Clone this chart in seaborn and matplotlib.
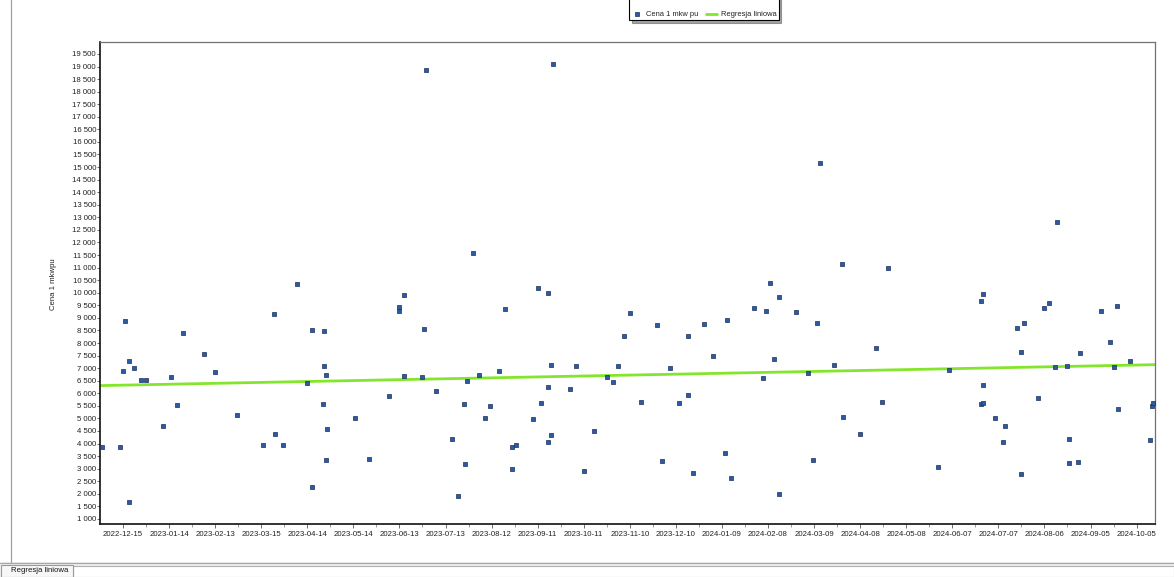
import numpy as np
import pandas as pd
import matplotlib
matplotlib.use("Agg")
import matplotlib.pyplot as plt
import matplotlib.dates as mdates
from matplotlib.ticker import FixedLocator, FuncFormatter
from matplotlib.lines import Line2D
from matplotlib.patches import Rectangle
import seaborn as sns

# Transaction dates and price per square metre of usable floor area
dates = [
    "2022-12-01", "2022-12-13", "2022-12-15", "2022-12-16", "2022-12-19", "2022-12-19",
    "2022-12-22", "2022-12-27", "2022-12-30", "2023-01-10", "2023-01-15", "2023-01-19",
    "2023-01-23", "2023-02-06", "2023-02-13", "2023-02-27", "2023-03-16", "2023-03-23",
    "2023-03-24", "2023-03-29", "2023-04-07", "2023-04-14", "2023-04-17", "2023-04-17",
    "2023-04-24", "2023-04-25", "2023-04-25", "2023-04-26", "2023-04-26", "2023-04-27",
    "2023-05-15", "2023-05-24", "2023-06-06", "2023-06-13", "2023-06-13", "2023-06-16",
    "2023-06-16", "2023-06-28", "2023-06-29", "2023-06-30", "2023-07-07", "2023-07-17",
    "2023-07-21", "2023-07-25", "2023-07-26", "2023-07-27", "2023-07-31", "2023-08-04",
    "2023-08-08", "2023-08-11", "2023-08-17", "2023-08-21", "2023-08-25", "2023-08-25",
    "2023-08-28", "2023-09-08", "2023-09-11", "2023-09-13", "2023-09-18", "2023-09-18",
    "2023-09-18", "2023-09-20", "2023-09-20", "2023-09-21", "2023-10-02", "2023-10-06",
    "2023-10-11", "2023-10-18", "2023-10-26", "2023-10-30", "2023-11-02", "2023-11-06",
    "2023-11-10", "2023-11-17", "2023-11-28", "2023-12-01", "2023-12-06", "2023-12-12",
    "2023-12-18", "2023-12-18", "2023-12-21", "2023-12-28", "2024-01-03", "2024-01-11",
    "2024-01-12", "2024-01-15", "2024-01-30", "2024-02-05", "2024-02-07", "2024-02-09",
    "2024-02-12", "2024-02-15", "2024-02-15", "2024-02-26", "2024-03-05", "2024-03-08",
    "2024-03-11", "2024-03-13", "2024-03-22", "2024-03-27", "2024-03-28", "2024-04-08",
    "2024-04-18", "2024-04-22", "2024-04-26", "2024-05-29", "2024-06-05", "2024-06-26",
    "2024-06-26", "2024-06-27", "2024-06-27", "2024-06-27", "2024-07-05", "2024-07-10",
    "2024-07-11", "2024-07-19", "2024-07-22", "2024-07-22", "2024-07-24", "2024-08-02",
    "2024-08-06", "2024-08-09", "2024-08-13", "2024-08-14", "2024-08-21", "2024-08-22",
    "2024-08-22", "2024-08-28", "2024-08-29", "2024-09-12", "2024-09-18", "2024-09-20",
    "2024-09-22", "2024-09-23", "2024-10-01", "2024-10-14", "2024-10-15", "2024-10-16",
]
prices = [
    3860, 3860, 6870, 8880, 7280, 1680,
    7000, 6510, 6540, 4680, 6630, 5545,
    8400, 7560, 6845, 5120, 3940, 9135,
    4400, 3940, 10340, 6420, 8500, 2255,
    5575, 8460, 7070, 6725, 3330, 4580,
    5000, 3390, 5900, 9440, 9270, 9930,
    6670, 6645, 8555, 18860, 6075, 4195,
    1915, 5555, 3170, 6470, 11600, 6710,
    5000, 5475, 6895, 9335, 3865, 3000,
    3925, 4960, 10170, 5625, 9985, 6260,
    4045, 7145, 4325, 19090, 6180, 7105,
    2920, 4485, 6630, 6445, 7105, 8260,
    9190, 5650, 8735, 3305, 7005, 5625,
    8260, 5930, 2830, 8775, 7480, 3635,
    8935, 2615, 9375, 6620, 9270, 10405,
    7360, 9850, 2005, 9215, 6805, 3360,
    8805, 15155, 7145, 11150, 5040, 4380,
    7785, 5650, 10965, 3050, 6925, 9690,
    5585, 9960, 6310, 5625, 5015, 4075,
    4710, 8580, 7640, 2800, 8815, 5795,
    9375, 9575, 7065, 12810, 7105, 4165,
    3210, 3265, 7585, 9270, 8060, 7045,
    9455, 5360, 7280, 4125, 5505, 5610,
]

x_tick_labels = [
    "2022-12-15", "2023-01-14", "2023-02-13", "2023-03-15", "2023-04-14", "2023-05-14",
    "2023-06-13", "2023-07-13", "2023-08-12", "2023-09-11", "2023-10-11", "2023-11-10",
    "2023-12-10", "2024-01-09", "2024-02-08", "2024-03-09", "2024-04-08", "2024-05-08",
    "2024-06-07", "2024-07-07", "2024-08-06", "2024-09-05", "2024-10-05",
]
y_tick_values = list(range(1000, 20000, 500))

series_points = "Cena 1 mkw pu"
series_fit = "Regresja liniowa"
y_title = "Cena 1 mkwpu"

x_start, x_end = "2022-11-30", "2024-10-17"
y_low, y_high = 800, 19975

point_face = "#2A5BA3"
point_edge = "#1B2F5C"
fit_color = "#84E62C"

sns.set_theme(style="white")
plt.rcParams["font.family"] = ["Liberation Sans", "DejaVu Sans"]
plt.rcParams["font.size"] = 5.6

df = pd.DataFrame({"data": pd.to_datetime(dates), "cena": prices})

fig = plt.figure(figsize=(11.74, 5.77), dpi=100)
fig.patch.set_facecolor("white")
ax = fig.add_axes([100 / 1174, 1 - 524 / 577, 1055 / 1174, (524 - 42) / 577])

sns.scatterplot(
    data=df, x="data", y="cena", ax=ax, marker="s", s=11,
    color=point_face, edgecolor=point_edge, linewidth=0.5,
    label=series_points, zorder=3,
)

# Least-squares trend over the whole visible date range
xnum = mdates.date2num(df["data"])
slope, intercept = np.polyfit(xnum, df["cena"].to_numpy(float), 1)
fit_dates = pd.to_datetime([x_start, x_end])
fit_df = pd.DataFrame({
    "data": fit_dates,
    "cena": intercept + slope * mdates.date2num(fit_dates),
})
sns.lineplot(data=fit_df, x="data", y="cena", ax=ax, color=fit_color,
             linewidth=2.0, label=series_fit, zorder=2)

ax.set_xlim(pd.Timestamp(x_start), pd.Timestamp(x_end))
ax.set_ylim(y_low, y_high)

major = pd.to_datetime(x_tick_labels)
minor = major[:-1] + pd.Timedelta(days=15)
ax.xaxis.set_major_locator(FixedLocator(mdates.date2num(major)))
ax.xaxis.set_minor_locator(FixedLocator(mdates.date2num(minor)))
ax.set_xticklabels(x_tick_labels)
ax.yaxis.set_major_locator(FixedLocator(y_tick_values))
ax.yaxis.set_major_formatter(FuncFormatter(lambda v, p: f"{int(v):,}".replace(",", " ")))

ax.tick_params(axis="x", which="major", direction="out", length=3.2, width=0.6,
               color="#555555", pad=2.0, labelsize=5.6, labelcolor="#222222",
               bottom=True)
ax.tick_params(axis="x", which="minor", direction="out", length=2.2, width=0.6,
               color="#888888", bottom=True)
ax.tick_params(axis="y", which="major", direction="out", length=2.2, width=0.6,
               color="#555555", pad=0.6, labelsize=5.6, labelcolor="#222222",
               left=True)

ax.set_xlabel("")
ax.set_ylabel(y_title, fontsize=5.6, color="#222222", labelpad=0)
ax.yaxis.set_label_coords((57 - 100) / 1055, (524 - 284) / 482)

for side in ("left", "bottom"):
    ax.spines[side].set_color("#111111")
    ax.spines[side].set_linewidth(1.2)
for side in ("top", "right"):
    ax.spines[side].set_color("#707070")
    ax.spines[side].set_linewidth(0.9)
ax.grid(False)

# Legend at the top, its upper part running off the figure edge
handles, labels = ax.get_legend_handles_labels()
ax.get_legend().remove()
leg = fig.legend(
    handles, labels, loc="lower center", bbox_to_anchor=(704 / 1174, 1 - 20 / 577),
    borderaxespad=0, ncol=2, frameon=True, fancybox=False, shadow=True, fontsize=5.4,
    borderpad=0.25, handlelength=1.5, handletextpad=0.5, columnspacing=1.0,
    markerscale=1.0, title=" ", title_fontsize=10,
)
leg.get_frame().set_edgecolor("#000000")
leg.get_frame().set_linewidth(0.8)
for t in leg.get_texts():
    t.set_color("#222222")

# Window frame around the chart panel
def px(x, y):
    return x / 1174, 1 - y / 577

fig.add_artist(Line2D(*zip(px(11, 0), px(11, 562)), color="#A0A0A0", lw=0.9))
fig.add_artist(Rectangle(px(0, 577), 1, 15 / 577, facecolor="#F0F0F0",
                         edgecolor="none", transform=fig.transFigure))
fig.add_artist(Line2D(*zip(px(0, 562.5), px(1174, 562.5)), color="#A8A8A8", lw=0.9))
fig.add_artist(Rectangle(px(73, 577), (1174 - 73) / 1174, 11 / 577, facecolor="white",
                         edgecolor="#B0B0B0", lw=0.8, transform=fig.transFigure))
fig.add_artist(Rectangle(px(1, 577), 72 / 1174, 12 / 577, facecolor="#F7F7F7",
                         edgecolor="#9A9A9A", lw=0.8, transform=fig.transFigure))
fig.text(40 / 1174, 1 - 571 / 577, "Regresja liniowa", ha="center", va="center",
         fontsize=5.6, color="#111111")

fig.savefig("out.png", dpi=100)
